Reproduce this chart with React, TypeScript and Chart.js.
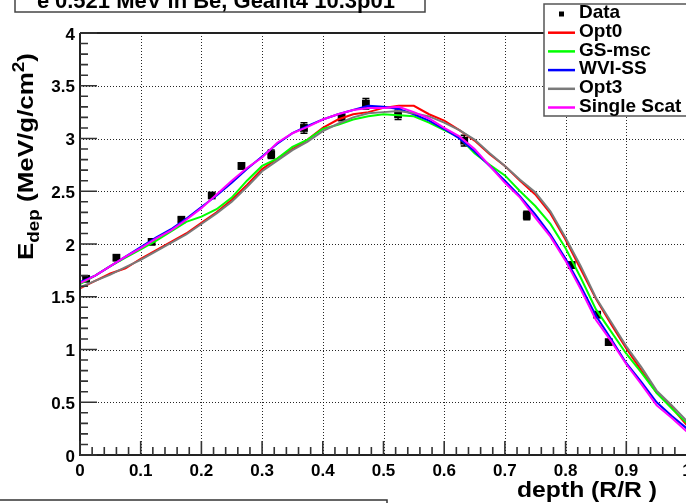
import React, { useEffect, useRef } from "react";
import { Chart, registerables } from "chart.js";

Chart.register(...registerables);

// ---------- data ----------
const depth = [
  0, 0.025, 0.05, 0.075, 0.1, 0.125, 0.15, 0.175, 0.2, 0.225, 0.25, 0.275, 0.3, 0.325, 0.35, 0.375, 0.4,
  0.425, 0.45, 0.475, 0.5, 0.525, 0.55, 0.575, 0.6, 0.625, 0.65, 0.675, 0.7, 0.725, 0.75, 0.775, 0.8,
  0.825, 0.85, 0.875, 0.9, 0.925, 0.95, 0.975, 1.0,
];
const opt0 = [
  1.58, 1.65, 1.72, 1.77, 1.86, 1.94, 2.02, 2.1, 2.2, 2.3, 2.42, 2.56, 2.71, 2.81, 2.9, 2.99, 3.1,
  3.18, 3.23, 3.25, 3.29, 3.31, 3.31, 3.23, 3.17, 3.08, 2.98, 2.85, 2.74, 2.6, 2.47, 2.29, 2.04,
  1.76, 1.48, 1.24, 1.01, 0.8, 0.59, 0.45, 0.28,
];
const gsMsc = [
  1.62, 1.7, 1.79, 1.87, 1.95, 2.03, 2.12, 2.21, 2.26, 2.33, 2.44, 2.6, 2.74, 2.81, 2.92, 2.99, 3.09,
  3.13, 3.18, 3.21, 3.23, 3.22, 3.21, 3.15, 3.08, 3.01, 2.86, 2.75, 2.65, 2.5, 2.36, 2.19, 1.96,
  1.68, 1.38, 1.17, 0.96, 0.78, 0.59, 0.44, 0.3,
];
const wviSS = [
  1.64, 1.7, 1.79, 1.88, 1.97, 2.06, 2.14, 2.24, 2.35, 2.46, 2.58, 2.71, 2.83, 2.95, 3.05, 3.12, 3.18,
  3.23, 3.27, 3.31, 3.3, 3.28, 3.23, 3.17, 3.09, 3.0, 2.88, 2.74, 2.6, 2.45, 2.28, 2.09, 1.86,
  1.6, 1.32, 1.1, 0.87, 0.69, 0.5, 0.37, 0.25,
];
const opt3 = [
  1.59, 1.65, 1.71, 1.78, 1.85, 1.93, 2.01, 2.09, 2.19, 2.29, 2.4, 2.54, 2.69, 2.79, 2.89, 2.97, 3.07,
  3.14, 3.2, 3.24, 3.25, 3.26, 3.24, 3.21, 3.15, 3.08, 2.99, 2.86, 2.74, 2.61, 2.49, 2.31, 2.06,
  1.79, 1.49, 1.26, 1.03, 0.83, 0.61, 0.47, 0.32,
];
const singleScat = [
  1.63, 1.7, 1.79, 1.88, 1.96, 2.05, 2.13, 2.23, 2.34, 2.47, 2.6, 2.72, 2.82, 2.96, 3.05, 3.11, 3.18,
  3.23, 3.27, 3.29, 3.29, 3.3, 3.25, 3.19, 3.1, 3.02, 2.9, 2.74, 2.58, 2.44, 2.25, 2.07, 1.84,
  1.57, 1.28, 1.08, 0.86, 0.67, 0.47, 0.35, 0.22,
];
const dataX = [0.01, 0.06, 0.118, 0.167, 0.217, 0.266, 0.315, 0.369, 0.431, 0.471, 0.524, 0.633, 0.736, 0.81, 0.852, 0.871];
const dataY = [1.67, 1.87, 2.02, 2.23, 2.46, 2.74, 2.85, 3.1, 3.2, 3.33, 3.23, 2.98, 2.27, 1.8, 1.33, 1.07];
const dataErr = [0.02, 0.02, 0.02, 0.02, 0.02, 0.03, 0.04, 0.05, 0.03, 0.05, 0.05, 0.05, 0.04, 0.03, 0.02, 0.02];

const xTicks = [0, 0.1, 0.2, 0.3, 0.4, 0.5, 0.6, 0.7, 0.8, 0.9, 1];
const xTickLabels = ["0", "0.1", "0.2", "0.3", "0.4", "0.5", "0.6", "0.7", "0.8", "0.9", "1"];
const yTicks = [0, 0.5, 1, 1.5, 2, 2.5, 3, 3.5, 4];
const yTickLabels = ["0", "0.5", "1", "1.5", "2", "2.5", "3", "3.5", "4"];

const seriesNames = ["Data", "Opt0", "GS-msc", "WVI-SS", "Opt3", "Single Scat"];
const seriesColors = ["#000000", "#ff0000", "#00ff00", "#0000ff", "#7a7a7a", "#ff00ff"];
const titleMain = "0.521 MeV in Be, Geant4 10.3p01";
const xTitle = "depth (R/R )";

const FONT = '"Liberation Sans", Arial, Helvetica, sans-serif';
const CW = 700;
const CH = 503;

const pts = (ys: number[]) => depth.map((x, i) => ({ x, y: ys[i] }));

const rootPlugin = {
  id: "rootStyle",
  beforeDatasetsDraw(chart: any) {
    const ctx = chart.ctx;
    const xs = chart.scales.x;
    const ys = chart.scales.y;
    const { left, right, top, bottom } = chart.chartArea;
    ctx.save();
    ctx.strokeStyle = "rgba(0,0,0,0.85)";
    ctx.lineWidth = 1;
    ctx.setLineDash([1, 2]);
    xTicks.forEach((v) => {
      if (v <= 0 || v >= 1) return;
      const px = Math.round(xs.getPixelForValue(v)) + 0.5;
      ctx.beginPath();
      ctx.moveTo(px, top);
      ctx.lineTo(px, bottom);
      ctx.stroke();
    });
    yTicks.forEach((v) => {
      if (v <= 0 || v >= 4) return;
      const py = Math.round(ys.getPixelForValue(v)) + 0.5;
      ctx.beginPath();
      ctx.moveTo(left, py);
      ctx.lineTo(right, py);
      ctx.stroke();
    });
    ctx.restore();
  },
  afterDatasetDraw(chart: any, args: any) {
    if (args.index !== 0) return;
    const ctx = chart.ctx;
    const xs = chart.scales.x;
    const ys = chart.scales.y;
    ctx.save();
    ctx.strokeStyle = "#000";
    ctx.lineWidth = 1.5;
    dataX.forEach((x, i) => {
      const px = xs.getPixelForValue(x);
      const y1 = ys.getPixelForValue(dataY[i] - dataErr[i]);
      const y2 = ys.getPixelForValue(dataY[i] + dataErr[i]);
      ctx.beginPath();
      ctx.moveTo(px, y1);
      ctx.lineTo(px, y2);
      ctx.moveTo(px - 3.5, y1);
      ctx.lineTo(px + 3.5, y1);
      ctx.moveTo(px - 3.5, y2);
      ctx.lineTo(px + 3.5, y2);
      ctx.stroke();
    });
    ctx.restore();
  },
  afterDraw(chart: any) {
    const ctx = chart.ctx;
    const xs = chart.scales.x;
    const ys = chart.scales.y;
    const { left, right, top, bottom } = chart.chartArea;
    ctx.save();
    ctx.setLineDash([]);

    // frame
    ctx.strokeStyle = "#222";
    ctx.lineWidth = 2;
    ctx.beginPath();
    ctx.moveTo(left, top);
    ctx.lineTo(right, top);
    ctx.moveTo(left, top);
    ctx.lineTo(left, bottom);
    ctx.lineTo(right, bottom);
    ctx.stroke();

    // ticks (inside)
    ctx.strokeStyle = "#333";
    ctx.lineWidth = 1.6;
    ctx.beginPath();
    for (let i = 0; i <= 50; i++) {
      const v = i / 50;
      const px = xs.getPixelForValue(v);
      const len = i % 5 === 0 ? 14 : 8;
      ctx.moveTo(px, bottom);
      ctx.lineTo(px, bottom - len);
    }
    for (let i = 0; i <= 40; i++) {
      const v = i / 10;
      const py = ys.getPixelForValue(v);
      const len = i % 5 === 0 ? 17 : 8;
      ctx.moveTo(left, py);
      ctx.lineTo(left + len, py);
    }
    ctx.stroke();

    // tick labels
    ctx.fillStyle = "#000";
    ctx.font = `bold 17px ${FONT}`;
    ctx.textBaseline = "alphabetic";
    ctx.textAlign = "center";
    xTicks.forEach((v, i) => {
      ctx.fillText(xTickLabels[i], xs.getPixelForValue(v), 476);
    });
    ctx.textAlign = "right";
    yTicks.forEach((v, i) => {
      ctx.fillText(yTickLabels[i], 75, ys.getPixelForValue(v) + 6.5);
    });

    // x title
    ctx.font = `bold 22px ${FONT}`;
    const xw = ctx.measureText(xTitle).width;
    ctx.save();
    ctx.translate(517, 497);
    ctx.scale(140 / xw, 1);
    ctx.textAlign = "left";
    ctx.fillText(xTitle, 0, 0);
    ctx.restore();

    // y title
    const big = `bold 22px ${FONT}`;
    const small = `bold 16px ${FONT}`;
    const segs: [string, string, number][] = [
      ["E", big, 0],
      ["dep", small, 6],
      [" (MeV/g/cm", big, 0],
      ["2", small, -9],
      [")", big, 0],
    ];
    let total = 0;
    segs.forEach(([t, f]) => {
      ctx.font = f;
      total += ctx.measureText(t).width;
    });
    ctx.save();
    ctx.translate(33, 260);
    ctx.rotate(-Math.PI / 2);
    ctx.scale(207 / total, 1);
    ctx.textAlign = "left";
    let cx = 0;
    segs.forEach(([t, f, dy]) => {
      ctx.font = f;
      ctx.fillText(t, cx, dy);
      cx += ctx.measureText(t).width;
    });
    ctx.restore();

    // title box (top-left, partially off-canvas)
    ctx.fillStyle = "#fff";
    ctx.fillRect(15, -30, 410, 42);
    ctx.strokeStyle = "#444";
    ctx.lineWidth = 1.5;
    ctx.strokeRect(15, -30, 410, 42);
    ctx.fillStyle = "#000";
    ctx.textAlign = "left";
    ctx.font = `bold 22px ${FONT}`;
    ctx.fillText("e", 37, 8);
    ctx.font = `bold 15px ${FONT}`;
    ctx.fillText("-", 49, -2);
    ctx.font = `bold 22px ${FONT}`;
    ctx.fillText(titleMain, 55, 8);

    // legend box
    ctx.fillStyle = "#fff";
    ctx.fillRect(544, 4, 180, 112);
    ctx.strokeStyle = "#555";
    ctx.lineWidth = 1.5;
    ctx.strokeRect(544, 4, 180, 112);
    ctx.font = `bold 19px ${FONT}`;
    ctx.textBaseline = "middle";
    seriesNames.forEach((name, i) => {
      const ry = 14 + i * 18.7;
      if (i === 0) {
        ctx.fillStyle = "#000";
        ctx.fillRect(559, ry - 2.5, 5, 5);
      } else {
        ctx.strokeStyle = seriesColors[i];
        ctx.lineWidth = 2.5;
        ctx.beginPath();
        ctx.moveTo(548, ry);
        ctx.lineTo(575, ry);
        ctx.stroke();
      }
      ctx.fillStyle = "#000";
      ctx.fillText(name, 579, ry - 1);
    });

    // bottom-left box (partially off-canvas)
    ctx.fillStyle = "#fff";
    ctx.fillRect(-2, 500, 389, 40);
    ctx.strokeStyle = "#333";
    ctx.lineWidth = 1.5;
    ctx.strokeRect(-2, 500, 389, 40);

    ctx.restore();
  },
};

export default function App() {
  const ref = useRef<HTMLCanvasElement | null>(null);
  useEffect(() => {
    document.body.style.margin = "0";
    document.body.style.overflow = "hidden";
    const canvas = ref.current;
    if (!canvas) return;
    const lineDs = (label: string, ys: number[], color: string, order: number) => ({
      type: "scatter" as const,
      label,
      data: pts(ys),
      showLine: true,
      borderColor: color,
      backgroundColor: color,
      borderWidth: 2,
      pointRadius: 0,
      tension: 0,
      order,
    });
    const chart = new Chart(canvas, {
      type: "scatter",
      data: {
        datasets: [
          {
            label: seriesNames[0],
            data: dataX.map((x, i) => ({ x, y: dataY[i] })),
            pointStyle: "rect",
            pointRadius: 5.5,
            backgroundColor: "#000",
            borderColor: "#000",
            borderWidth: 0,
            order: 6,
          } as any,
          lineDs(seriesNames[1], opt0, seriesColors[1], 5),
          lineDs(seriesNames[2], gsMsc, seriesColors[2], 4),
          lineDs(seriesNames[3], wviSS, seriesColors[3], 3),
          lineDs(seriesNames[4], opt3, seriesColors[4], 2),
          lineDs(seriesNames[5], singleScat, seriesColors[5], 1),
        ],
      },
      options: {
        responsive: false,
        animation: false,
        events: [],
        layout: { padding: { left: 80, top: 33, right: CW - 687, bottom: CH - 455 } },
        scales: {
          x: { type: "linear", min: 0, max: 1, display: false },
          y: { type: "linear", min: 0, max: 4, display: false },
        },
        plugins: { legend: { display: false }, tooltip: { enabled: false } },
      },
      plugins: [rootPlugin],
    });
    return () => chart.destroy();
  }, []);
  return (
    <div style={{ position: "fixed", left: 0, top: 0, width: 686, height: 503, overflow: "hidden", background: "#fff" }}>
      <canvas ref={ref} width={CW} height={CH} style={{ width: CW, height: CH, display: "block" }} />
    </div>
  );
}
